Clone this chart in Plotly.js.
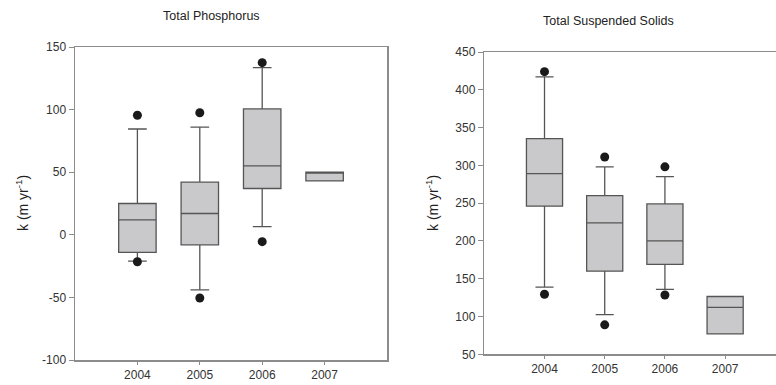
<!DOCTYPE html>
<html>
<head>
<meta charset="utf-8">
<script src="https://cdn.plot.ly/plotly-3.0.1.min.js"></script>
<style>
  html, body { margin: 0; padding: 0; background: #fff; }
  #chart { width: 776px; height: 385px; }
</style>
</head>
<body>
<div id="chart"></div>
<script>
// Sampling years (shared by both panels)
const years = ['2004', '2005', '2006', '2007'];

// Total Phosphorus: box statistics, k (m/yr)
const tpQ1 = [-14, -8, 37, 43];
const tpMedian = [12, 17, 55, 49.5];
const tpQ3 = [25, 42, 100.5, 50];
const tpLowerWhisker = [-21, -44, 6.5, 43];
const tpUpperWhisker = [84.5, 86, 133.5, 50];
const tpOutlierYears = ['2004', '2004', '2005', '2005', '2006', '2006'];
const tpOutliers = [95.5, -21.5, 97.5, -50.5, 137.5, -5.5];
const tpTickValues = [-100, -50, 0, 50, 100, 150];
const tpTickLabels = ['-100', '-50', '0', '50', '100', '150'];

// Total Suspended Solids: box statistics, k (m/yr)
const tssQ1 = [246, 160, 169, 77];
const tssMedian = [289, 224, 200, 112];
const tssQ3 = [335.5, 260, 249, 126.5];
const tssLowerWhisker = [139, 102.5, 136, 77];
const tssUpperWhisker = [417, 298, 285, 126.5];
const tssOutlierYears = ['2004', '2004', '2005', '2005', '2006', '2006'];
const tssOutliers = [424, 129.5, 311, 89, 298, 128.5];

const W = 776, H = 385;
const px = v => v / W;          // horizontal pixel -> paper
const py = v => 1 - v / H;      // vertical pixel -> paper

const boxStyle = {
  type: 'box',
  fillcolor: '#c9c9cb',
  line: { color: '#555555', width: 1.3 },
  width: 0.6,
  whiskerwidth: 0.5,
  boxpoints: false,
  hoverinfo: 'skip',
  showlegend: false
};
const dotStyle = {
  type: 'scatter',
  mode: 'markers',
  marker: { color: '#1a1a1a', size: 9 },
  hoverinfo: 'skip',
  showlegend: false
};

const data = [
  Object.assign({}, boxStyle, {
    x: years, q1: tpQ1, median: tpMedian, q3: tpQ3,
    lowerfence: tpLowerWhisker, upperfence: tpUpperWhisker,
    xaxis: 'x', yaxis: 'y'
  }),
  Object.assign({}, dotStyle, { x: tpOutlierYears, y: tpOutliers, xaxis: 'x', yaxis: 'y' }),
  Object.assign({}, boxStyle, {
    x: years, q1: tssQ1, median: tssMedian, q3: tssQ3,
    lowerfence: tssLowerWhisker, upperfence: tssUpperWhisker,
    xaxis: 'x2', yaxis: 'y2'
  }),
  Object.assign({}, dotStyle, { x: tssOutlierYears, y: tssOutliers, xaxis: 'x2', yaxis: 'y2' })
];

const FAMILY = 'Liberation Sans, Arial, sans-serif';
const tickFont = { family: FAMILY, size: 12, color: '#333333' };
const axisCommon = {
  showgrid: false,
  zeroline: false,
  showline: true,
  linecolor: '#8c8c8c',
  linewidth: 1.5,
  ticks: 'outside',
  tickcolor: '#8c8c8c',
  tickfont: tickFont,
  fixedrange: true
};

const layout = {
  width: W,
  height: H,
  margin: { l: 0, r: 0, t: 0, b: 0 },
  paper_bgcolor: '#ffffff',
  plot_bgcolor: '#ffffff',
  font: tickFont,
  xaxis: Object.assign({}, axisCommon, {
    type: 'category', domain: [px(75), px(387)], range: [-1, 4],
    anchor: 'y', mirror: true, ticklen: 3
  }),
  yaxis: Object.assign({}, axisCommon, {
    domain: [py(360), py(47)], range: [-100, 150],
    tickmode: 'array', tickvals: tpTickValues, ticktext: tpTickLabels,
    anchor: 'x', mirror: true, ticklen: 5
  }),
  xaxis2: Object.assign({}, axisCommon, {
    type: 'category', domain: [px(484.3), 1], range: [-1, 3.845],
    anchor: 'y2', mirror: true, ticklen: 3
  }),
  yaxis2: Object.assign({}, axisCommon, {
    domain: [py(354.3), py(52)], range: [50, 450], dtick: 50,
    anchor: 'x2', mirror: false, ticklen: 5
  }),
  annotations: [
    { text: 'Total Phosphorus', xref: 'paper', yref: 'paper', x: px(212), y: py(16),
      xanchor: 'center', yanchor: 'middle', showarrow: false,
      font: { family: FAMILY, size: 12.5, color: '#222222' } },
    { text: 'Total Suspended Solids', xref: 'paper', yref: 'paper', x: px(608), y: py(21),
      xanchor: 'center', yanchor: 'middle', showarrow: false,
      font: { family: FAMILY, size: 12.5, color: '#222222' } },
    { text: 'k (m yr<sup>-1</sup>)', xref: 'paper', yref: 'paper', x: px(22), y: py(203),
      xanchor: 'center', yanchor: 'middle', textangle: -90, showarrow: false,
      font: { family: FAMILY, size: 14, color: '#222222' } },
    { text: 'k (m yr<sup>-1</sup>)', xref: 'paper', yref: 'paper', x: px(432), y: py(203),
      xanchor: 'center', yanchor: 'middle', textangle: -90, showarrow: false,
      font: { family: FAMILY, size: 14, color: '#222222' } }
  ]
};

Plotly.newPlot('chart', data, layout, { staticPlot: true, displayModeBar: false });
</script>
</body>
</html>
